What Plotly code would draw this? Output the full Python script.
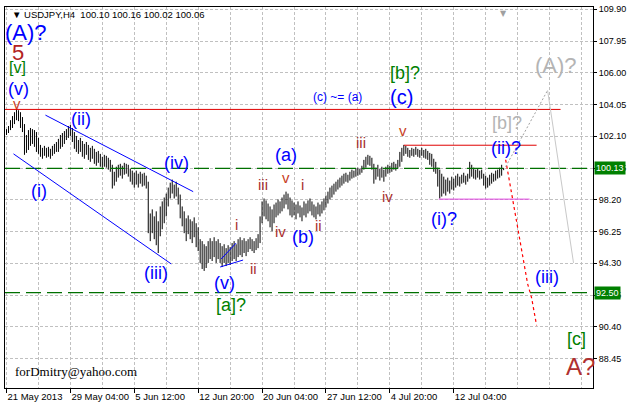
import plotly.graph_objects as go

# ---------------- data ----------------
bar_open = [
102.30,102.45,102.65,102.98,103.20,103.49,103.30,103.55,102.80,102.75,
101.20,101.90,102.20,101.80,102.30,101.70,101.40,101.10,101.00,100.95,
101.30,100.95,101.20,100.95,101.35,101.20,101.60,101.40,102.00,101.80,
102.25,102.10,102.60,102.30,102.20,101.50,101.80,101.20,101.75,101.00,
101.40,101.10,101.30,100.80,101.20,100.60,100.50,100.95,100.40,100.70,
100.50,100.75,100.20,100.00,99.10,99.70,99.95,99.80,100.20,99.75,
100.30,99.95,100.05,99.50,99.80,99.20,99.70,99.20,99.75,99.25,
99.60,99.05,96.40,96.90,96.30,96.95,95.60,96.50,97.50,97.00,
98.00,98.40,98.70,99.10,98.75,99.00,98.60,98.10,97.30,96.90,
96.40,96.20,96.80,96.10,96.00,96.70,95.50,95.30,94.60,94.20,
95.10,94.40,95.40,95.00,94.70,95.60,94.60,95.40,94.70,94.40,
95.20,94.40,95.10,94.50,95.30,94.90,95.20,95.60,95.10,95.50,
95.20,95.50,95.30,95.70,95.40,95.20,95.60,95.90,96.90,97.80,
97.60,97.95,97.30,97.10,96.80,97.70,97.40,98.00,97.60,98.10,
98.30,98.10,97.80,97.50,97.90,97.40,97.60,97.80,97.30,97.30,
97.90,97.40,97.95,97.70,97.45,97.30,97.50,97.80,97.40,97.90,
98.10,98.30,98.55,98.80,98.90,99.10,99.20,99.30,99.45,99.55,
99.70,99.50,99.65,99.80,99.90,99.75,100.00,99.85,100.05,100.20,
100.55,100.70,100.50,100.75,100.20,99.50,99.95,99.80,99.60,100.00,
99.65,100.05,100.20,99.95,100.30,100.20,100.35,100.55,101.00,101.25,
101.35,101.15,101.00,101.20,101.30,101.00,101.30,101.10,100.90,101.25,
101.00,100.85,100.80,100.50,100.40,100.05,99.90,99.20,98.90,99.40,
98.80,99.20,99.00,99.25,99.45,99.10,99.50,99.30,99.55,99.40,
99.65,99.35,99.60,100.10,99.80,99.95,99.60,99.90,99.65,99.75,
99.30,99.10,99.40,99.60,99.50,99.70,99.85,99.75,100.00,100.10]

bar_high = [
102.54,102.73,103.09,103.34,103.58,103.76,103.70,103.58,103.28,102.85,
102.18,102.48,102.61,102.54,102.48,102.36,102.00,101.57,101.39,101.51,
101.39,101.45,101.33,101.51,101.63,101.75,101.94,102.18,102.30,102.42,
102.54,102.73,102.79,102.61,102.36,102.12,101.87,102.00,101.81,101.63,
101.75,101.57,101.39,101.51,101.33,101.14,101.20,101.02,100.84,100.96,
100.90,100.78,100.65,100.35,99.92,100.23,100.35,100.41,100.29,100.47,
100.41,100.35,100.11,99.99,99.86,99.99,99.80,99.92,99.80,99.86,
99.68,99.31,97.36,97.61,97.18,97.49,96.88,97.79,98.10,98.34,
98.58,98.95,99.25,99.44,99.13,99.31,98.95,98.52,97.79,97.49,
97.06,97.24,97.00,96.88,97.12,96.76,96.51,95.78,95.66,95.47,
95.35,95.66,95.84,95.66,95.90,95.66,95.78,95.54,95.35,95.47,
95.23,95.41,95.29,95.54,95.66,95.47,95.78,95.90,95.72,95.84,
95.66,95.78,95.90,95.78,95.66,95.84,96.09,97.18,98.10,98.28,
98.16,97.97,97.79,97.61,97.91,98.03,98.22,98.10,98.34,98.52,
98.70,98.58,98.34,98.16,98.03,97.91,98.10,97.85,97.73,98.10,
97.97,98.16,98.28,98.10,97.91,97.79,98.03,97.91,98.10,98.28,
98.46,98.70,98.95,99.07,99.19,99.31,99.44,99.56,99.68,99.80,
99.86,99.74,99.92,100.05,99.99,100.11,100.17,100.11,100.29,100.65,
100.84,100.96,100.90,100.78,100.41,100.17,100.35,100.11,100.23,100.05,
100.23,100.35,100.29,100.47,100.53,100.41,100.65,101.14,101.39,101.57,
101.51,101.39,101.26,101.39,101.33,101.45,101.33,101.26,101.39,101.26,
101.33,101.20,101.08,101.02,100.72,100.53,100.17,100.05,99.80,99.62,
99.44,99.56,99.38,99.62,99.50,99.68,99.80,99.62,99.74,99.86,
99.68,99.80,100.53,100.35,100.17,100.05,100.11,99.99,100.05,99.80,
99.68,99.56,99.74,99.86,99.80,99.99,100.05,100.17,100.35,100.16]

bar_low = [
102.18,102.30,102.48,102.61,102.85,103.09,103.03,102.61,102.36,100.96,
101.08,101.26,101.51,101.63,101.45,101.14,101.02,100.84,100.72,100.90,
100.78,100.84,100.72,100.90,101.02,101.14,101.14,101.33,101.45,101.63,
101.87,102.00,102.12,101.75,101.33,101.14,101.02,101.14,100.84,100.72,
100.96,100.65,100.53,100.72,100.41,100.29,100.47,100.23,100.17,100.23,
100.17,100.05,99.92,98.89,99.07,99.31,99.56,99.68,99.50,99.74,
99.80,99.62,99.31,99.13,98.95,99.13,98.95,99.19,99.01,99.07,
98.89,96.15,95.66,96.15,95.78,95.41,94.93,95.96,96.39,96.76,
97.18,97.79,98.28,98.58,98.28,98.40,97.91,97.06,96.57,96.15,
95.66,96.09,95.78,95.54,95.90,95.29,95.05,94.32,93.95,93.83,
94.01,94.32,94.56,94.44,94.68,94.32,94.56,94.32,94.07,94.32,
94.13,94.32,94.20,94.44,94.56,94.44,94.68,94.80,94.68,94.93,
94.74,94.99,95.17,95.05,94.93,95.11,95.23,95.54,96.76,97.18,
97.00,96.88,96.51,96.27,96.76,97.12,97.24,97.36,97.49,97.67,
97.91,97.61,97.24,97.12,97.24,97.00,97.36,97.12,96.88,97.24,
97.12,97.36,97.49,97.24,97.12,97.00,97.30,97.18,97.36,97.55,
97.73,97.97,98.22,98.34,98.52,98.70,98.83,98.95,99.07,99.19,
99.31,99.25,99.38,99.50,99.56,99.62,99.68,99.74,99.86,100.05,
100.17,100.35,100.29,100.05,99.19,99.44,99.62,99.38,99.56,99.31,
99.62,99.80,99.86,99.92,100.05,99.99,100.11,100.23,100.53,100.90,
101.02,100.84,100.78,100.90,100.84,100.96,100.84,100.78,100.90,100.78,
100.72,100.65,100.35,100.23,99.92,99.80,99.01,98.28,98.40,98.58,
98.46,98.70,98.58,98.83,98.77,98.95,99.07,99.01,99.19,99.25,
99.13,99.31,99.50,99.62,99.50,99.44,99.56,99.44,99.50,99.07,
98.89,98.95,99.07,99.19,99.31,99.38,99.50,99.56,99.68,100.02]

bar_close = [
102.45,102.65,102.98,103.20,103.49,103.30,103.55,102.80,102.75,101.20,
101.90,102.20,101.80,102.30,101.70,101.40,101.10,101.00,100.95,101.30,
100.95,101.20,100.95,101.35,101.20,101.60,101.40,102.00,101.80,102.25,
102.10,102.60,102.30,102.20,101.50,101.80,101.20,101.75,101.00,101.40,
101.10,101.30,100.80,101.20,100.60,100.50,100.95,100.40,100.70,100.50,
100.75,100.20,100.00,99.10,99.70,99.95,99.80,100.20,99.75,100.30,
99.95,100.05,99.50,99.80,99.20,99.70,99.20,99.75,99.25,99.60,
99.05,96.40,96.90,96.30,96.95,95.60,96.50,97.50,97.00,98.00,
98.40,98.70,99.10,98.75,99.00,98.60,98.10,97.30,96.90,96.40,
96.20,96.80,96.10,96.00,96.70,95.50,95.30,94.60,94.20,95.10,
94.40,95.40,95.00,94.70,95.60,94.60,95.40,94.70,94.40,95.20,
94.40,95.10,94.50,95.30,94.90,95.20,95.60,95.10,95.50,95.20,
95.50,95.30,95.70,95.40,95.20,95.60,95.90,96.90,97.80,97.60,
97.95,97.30,97.10,96.80,97.70,97.40,98.00,97.60,98.10,98.30,
98.10,97.80,97.50,97.90,97.40,97.60,97.80,97.30,97.30,97.90,
97.40,97.95,97.70,97.45,97.30,97.50,97.80,97.40,97.90,98.10,
98.30,98.55,98.80,98.90,99.10,99.20,99.30,99.45,99.55,99.70,
99.50,99.65,99.80,99.90,99.75,100.00,99.85,100.05,100.20,100.55,
100.70,100.50,100.75,100.20,99.50,99.95,99.80,99.60,100.00,99.65,
100.05,100.20,99.95,100.30,100.20,100.35,100.55,101.00,101.25,101.35,
101.15,101.00,101.20,101.30,101.00,101.30,101.10,100.90,101.25,101.00,
100.85,100.80,100.50,100.40,100.05,99.90,99.20,98.90,99.40,98.80,
99.20,99.00,99.25,99.45,99.10,99.50,99.30,99.55,99.40,99.65,
99.35,99.60,100.10,99.80,99.95,99.60,99.90,99.65,99.75,99.30,
99.10,99.40,99.60,99.50,99.70,99.85,99.75,100.00,100.10,100.06]

bar_index = list(range(len(bar_close)))

xtick_bars = [0, 32, 64, 96, 128, 160, 192, 224]
xtick_text = ["21 May 2013", "29 May 04:00", "5 Jun 12:00", "12 Jun 20:00",
              "20 Jun 04:00", "27 Jun 12:00", "4 Jul 20:00", "12 Jul 04:00"]
ytick_vals = [88.45, 90.40, 92.35, 94.30, 96.25, 98.20, 100.15, 102.10,
              104.05, 106.00, 107.95, 109.90]

level_green = [100.13, 92.50]
level_red_top = 103.75
level_red_b = 101.55
level_magenta = 98.24

chan_up_bars, chan_up_px = [19.5, 93.5], [103.40, 98.70]
chan_lo_bars, chan_lo_px = [3.5, 82.5], [101.02, 94.26]
wedge_up_bars, wedge_up_px = [107.5, 115], [94.56, 95.54]
wedge_lo_bars, wedge_lo_px = [107, 118.5], [94.07, 94.50]
proj_red_bars, proj_red_px = [250, 261, 263, 265.5], [100.66, 93.04, 92.18, 90.48]
proj_gray_up_bars, proj_gray_up_px = [250, 271], [100.23, 104.92]
proj_gray_dn_bars, proj_gray_dn_px = [271, 284], [104.92, 94.32]

BLUE = "#0000FF"
GREEN = "#008000"
BROWN = "#A8302E"
ORANGE = "#C8401E"
GRAY = "#B4B4B4"

wave_labels = [
    ("(A)?", 10, 108.46, BLUE, 22),
    ("5", 6, 107.24, "#B22222", 22),
    ("[v]", 5.5, 106.32, GREEN, 16),
    ("(v)", 6, 104.98, BLUE, 18),
    ("v", 5.5, 104.13, ORANGE, 15),
    ("(ii)", 37.5, 103.15, BLUE, 18),
    ("(i)", 16.5, 98.77, BLUE, 18),
    ("(iv)", 85, 100.47, BLUE, 18),
    ("(iii)", 75, 93.71, BLUE, 18),
    ("(v)", 109, 93.10, BLUE, 18),
    ("[a]?", 112.5, 91.76, GREEN, 18),
    ("i", 115, 96.69, BROWN, 15),
    ("ii", 123.5, 93.95, BROWN, 15),
    ("iii", 128.5, 99.13, BROWN, 15),
    ("v", 140, 99.56, ORANGE, 15),
    ("i", 148.5, 99.13, BROWN, 15),
    ("iv", 137, 96.27, BROWN, 15),
    ("(b)", 148.5, 95.90, BLUE, 18),
    ("ii", 156.5, 96.63, BROWN, 15),
    ("(a)", 140, 100.96, BLUE, 18),
    ("iii", 177.5, 101.69, BROWN, 15),
    ("v", 198.5, 102.48, ORANGE, 15),
    ("iv", 191, 98.40, BROWN, 15),
    ("(c) ~= (a)", 166, 104.49, BLUE, 12),
    ("[b]?", 199.5, 105.96, GREEN, 18),
    ("(c)", 198, 104.49, BLUE, 20),
    ("(i)?", 219, 97.00, BLUE, 18),
    ("(ii)?", 250, 101.39, BLUE, 18),
    ("[b]?", 250.5, 102.91, GRAY, 18),
    ("(A)?", 275, 106.44, GRAY, 22),
    ("(iii)", 270.5, 93.46, BLUE, 18),
    ("[c]", 285.5, 89.63, GREEN, 18),
    ("A?", 287.5, 87.98, "#B03030", 24),
]

# ---------------- figure ----------------
fig = go.Figure()

fig.add_trace(go.Ohlc(
    x=bar_index, open=bar_open, high=bar_high, low=bar_low, close=bar_close,
    increasing=dict(line=dict(color="black", width=1)),
    decreasing=dict(line=dict(color="black", width=1)),
    tickwidth=0, hoverinfo="skip", showlegend=False))

def line(xs, ys, color, width=1, dash="solid"):
    fig.add_trace(go.Scatter(x=xs, y=ys, mode="lines",
                             line=dict(color=color, width=width, dash=dash),
                             hoverinfo="skip", showlegend=False))

for lv in level_green:
    line([-0.75, 293.75], [lv, lv], "#007000", 1.3, "15px,6px")
line([-0.75, 277.5], [level_red_top] * 2, "#E00000", 1)
line([199, 265.5], [level_red_b] * 2, "#E00000", 1)
line([216.5, 262], [level_magenta] * 2, "#E040E0", 1)
line(chan_up_bars, chan_up_px, BLUE, 1)
line(chan_lo_bars, chan_lo_px, BLUE, 1)
line(wedge_up_bars, wedge_up_px, BLUE, 1)
line(wedge_lo_bars, wedge_lo_px, BLUE, 1)
line(proj_red_bars, proj_red_px, "#FF0000", 1.2, "3px,3px")
line(proj_gray_up_bars, proj_gray_up_px, "#A0A0A0", 1, "2px,2px")
line(proj_gray_dn_bars, proj_gray_dn_px, "#C8C8C8", 1)

for txt, bx, py, col, sz in wave_labels:
    fig.add_annotation(x=bx, y=py, text=txt, showarrow=False,
                       font=dict(family="Liberation Sans", size=sz, color=col),
                       xanchor="center", yanchor="middle")

# price boxes
for lv in level_green:
    fig.add_annotation(xref="paper", x=1.0, y=lv, text=f"{lv:.2f}", showarrow=False,
                       xanchor="left", yanchor="middle", xshift=1,
                       bgcolor="#008000", borderpad=1,
                       font=dict(family="Liberation Sans", size=9, color="white"))

# header
hdr = "USDJPY,H4  {:.2f} {:.2f} {:.2f} {:.2f}".format(
    bar_open[-1], bar_high[-1], bar_low[-1], bar_close[-1])
fig.add_annotation(xref="paper", yref="paper", x=0.008, y=0.98, text="▼ " + hdr,
                   showarrow=False, xanchor="left", yanchor="middle",
                   font=dict(family="Liberation Sans", size=9.5, color="black"))
fig.add_annotation(xref="x", yref="paper", x=249, y=1.0, text="▼",
                   showarrow=False, xanchor="center", yanchor="top",
                   font=dict(family="DejaVu Sans", size=8, color="#A0A0A0"))
fig.add_annotation(xref="paper", yref="paper", x=0.014, y=0.042,
                   text="forDmitry@yahoo.com", showarrow=False,
                   xanchor="left", yanchor="middle",
                   font=dict(family="Liberation Serif", size=13, color="black"))

grid = dict(showgrid=True, gridcolor="#C0C0C0", griddash="3px,2px", gridwidth=1)
fig.update_layout(
    width=630, height=407,
    margin=dict(l=4, r=37, t=4, b=19),
    paper_bgcolor="white", plot_bgcolor="white",
    showlegend=False,
    xaxis=dict(range=[-0.75, 293.75], type="linear", rangeslider=dict(visible=False),
               tickmode="array", tickvals=xtick_bars, ticktext=xtick_text,
               ticks="outside", ticklen=4, tickcolor="black", tickangle=0,
               ticklabelposition="outside right",
               tickfont=dict(family="Liberation Sans", size=9.5, color="black"),
               showline=True, linecolor="black", linewidth=1, mirror=True,
               zeroline=False,
               minor=dict(tickmode="linear", tick0=0, dtick=16, showgrid=True,
                          gridcolor="#C0C0C0", griddash="3px,2px", ticks=""),
               **grid),
    yaxis=dict(range=[86.64, 110.04], side="right",
               tickmode="array", tickvals=ytick_vals,
               ticktext=[f"{v:.2f}" for v in ytick_vals],
               ticks="outside", ticklen=3, tickcolor="black",
               tickfont=dict(family="Liberation Sans", size=9, color="black"),
               showline=True, linecolor="black", linewidth=1, mirror=True,
               zeroline=False, **grid),
)

fig.write_html("out.html",
               config={"displayModeBar": False},
               post_script="document.body.style.margin='0';document.body.style.padding='0';")
